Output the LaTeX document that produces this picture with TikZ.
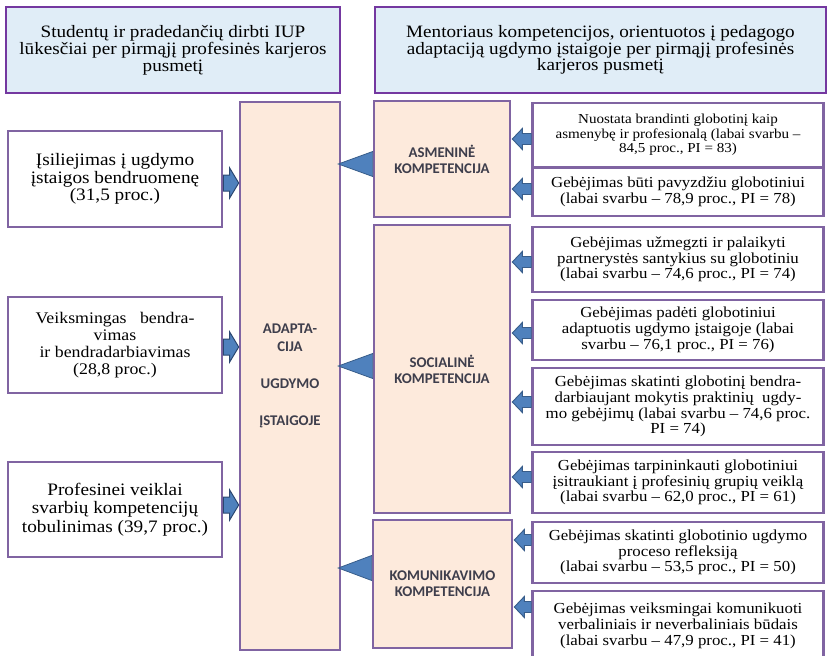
\documentclass[tikz,border=0pt]{standalone}
\usepackage{fontspec}
\setmainfont[FakeStretch=1.1]{Liberation Serif}
\newfontfamily\labelfont{Carlito}
\usetikzlibrary{calc}

\definecolor{boxline}{HTML}{8064A2}
\definecolor{headline}{HTML}{7438A0}
\definecolor{headfill}{HTML}{E0EDF7}
\definecolor{peach}{HTML}{FDEADC}
\definecolor{labeltext}{HTML}{3E3E4C}
\definecolor{arrowfill}{HTML}{4F81BD}
\definecolor{arrowline}{HTML}{385D8A}
\definecolor{arrowdark}{HTML}{2B4770}

% right-pointing block arrow between two coordinates on one level
\newcommand{\blockR}[2]{%
  \draw[needarrow]
    ($(#1)+(0,-8)$) -- ($(#2)+(-9,-8)$) -- ($(#2)+(-9,-15)$) -- (#2)
    -- ($(#2)+(-9,15)$) -- ($(#2)+(-9,8)$) -- ($(#1)+(0,8)$) -- cycle;}
% left-pointing block arrow, tip at the second coordinate
\newcommand{\blockL}[2]{%
  \draw[itemarrow]
    ($(#1)+(0,-5.5)$) -- ($(#2)+(10,-5.5)$) -- ($(#2)+(10,-10.5)$) -- (#2)
    -- ($(#2)+(10,10.5)$) -- ($(#2)+(10,5.5)$) -- ($(#1)+(0,5.5)$) -- cycle;}
% triangle pointing left, tip at the second coordinate
\newcommand{\wedgeL}[2]{%
  \draw[wedge] ($(#1)+(0,-12.5)$) -- (#2) -- ($(#1)+(0,12.5)$) -- cycle;}

\begin{document}
\begin{tikzpicture}[x=1pt,y=-1pt,
  wh/.style 2 args={minimum width=#1pt, minimum height=#2pt},
  base/.style={draw=boxline, line width=2.6pt, align=center, inner sep=1pt},
  headbox/.style={base, draw=headline, fill=headfill,
    font=\fontsize{17.4}{16.8}\selectfont},
  needbox/.style={base, fill=white, font=\fontsize{17.5}{17.5}\selectfont},
  compbox/.style={base, fill=peach, text=labeltext,
    font=\labelfont\bfseries\fontsize{14.8}{16}\selectfont},
  itembox/.style={base, fill=white, font=\fontsize{15.3}{15.7}\selectfont},
  smallitem/.style={itembox, font=\fontsize{13.7}{14.5}\selectfont},
  needarrow/.style={fill=arrowfill, draw=arrowdark, line width=1pt, line join=miter},
  itemarrow/.style={fill=arrowfill, draw=arrowline, line width=0.9pt, line join=miter},
  wedge/.style={fill=arrowfill, draw=arrowline, line width=0.8pt, line join=miter},
]
\useasboundingbox (0,0) rectangle (828,656);

% column headings
\node[headbox, wh={334}{86}] (h1) at (173,50)
  {Studentų ir pradedančių dirbti IUP\\lūkesčiai per pirmąjį profesinės karjeros\\pusmetį};
\node[headbox, wh={451}{86}] (h2) at (600.5,50)
  {Mentoriaus kompetencijos, orientuotos į pedagogo\\adaptaciją ugdymo įstaigoje per pirmąjį profesinės\\karjeros pusmetį};

% central block
\node[compbox, wh={100}{548}, font=\labelfont\bfseries\fontsize{14.8}{18}\selectfont] (adapt) at (290,376)
  {ADAPTA-\\CIJA\\[19pt]UGDYMO\\[19pt]ĮSTAIGOJE};

% expectations
\node[needbox, wh={214}{96}] (l1) at (115,179)
  {Įsiliejimas į ugdymo\\įstaigos bendruomenę\\(31,5 proc.)};
\node[needbox, wh={214}{96}, font=\fontsize{16.2}{17}\selectfont] (l2) at (115,345)
  {Veiksmingas\ \ \ bendra-\\vimas\\ir bendradarbiavimas\\(28,8 proc.)};
\node[needbox, wh={214}{95}, font=\fontsize{17.5}{18.5}\selectfont] (l3) at (115,509.5)
  {Profesinei veiklai\\svarbių kompetencijų\\tobulinimas (39,7 proc.)};

% competence groups
\node[compbox, wh={136}{116}] (asm) at (442,159) {ASMENINĖ\\KOMPETENCIJA};
\node[compbox, wh={136}{288}] (soc) at (442,369) {SOCIALINĖ\\KOMPETENCIJA};
\node[compbox, wh={139}{128}] (kom) at (442.5,584) {KOMUNIKAVIMO\\KOMPETENCIJA};

% individual competences
\node[smallitem, wh={291}{64}] (r1) at (678,135)
  {Nuostata brandinti globotinį kaip\\asmenybę ir profesionalą (labai svarbu –\\84,5 proc., PI = 83)};
\node[itembox, wh={291}{48}] (r2) at (678,192)
  {Gebėjimas būti pavyzdžiu globotiniui\\(labai svarbu – 78,9 proc., PI = 78)};
\node[itembox, wh={291}{65}] (r3) at (678,259.5)
  {Gebėjimas užmegzti ir palaikyti\\partnerystės santykius su globotiniu\\(labai svarbu – 74,6 proc., PI = 74)};
\node[itembox, wh={291}{60}] (r4) at (678,330)
  {Gebėjimas padėti globotiniui\\adaptuotis ugdymo įstaigoje (labai\\svarbu – 76,1 proc., PI = 76)};
\node[itembox, wh={291}{77}] (r5) at (678,406.5)
  {Gebėjimas skatinti globotinį bendra-\\darbiaujant mokytis praktinių\ \ ugdy-\\mo gebėjimų (labai svarbu – 74,6 proc.\\PI = 74)};
\node[itembox, wh={291}{61}] (r6) at (678,482.5)
  {Gebėjimas tarpininkauti globotiniui\\įsitraukiant į profesinių grupių veiklą\\(labai svarbu – 62,0 proc., PI = 61)};
\node[itembox, wh={291}{61}] (r7) at (678,552.5)
  {Gebėjimas skatinti globotinio ugdymo\\proceso refleksiją\\(labai svarbu – 53,5 proc., PI = 50)};
\node[itembox, wh={291}{70}] (r8) at (678,626)
  {Gebėjimas veiksmingai komunikuoti\\verbaliniais ir neverbaliniais būdais\\(labai svarbu – 47,9 proc., PI = 41)};

% expectations feed the central block
\foreach \n/\y in {l1/183, l2/347, l3/505}{
  \coordinate (\n s) at (\n.east |- 0,\y);
  \coordinate (\n t) at (adapt.west |- 0,\y);
  \blockR{\n s}{\n t}
}

% competence groups point at the central block
\foreach \n/\y in {asm/164, soc/366, kom/568}{
  \coordinate (\n s) at (\n.west |- 0,\y);
  \coordinate (\n t) at ($(adapt.east |- 0,\y)+(-3,0)$);
  \wedgeL{\n s}{\n t}
}

% individual competences point at their group
\foreach \n/\g/\y in {r1/asm/139, r2/asm/189, r3/soc/262, r4/soc/333,
                      r5/soc/402, r6/soc/477, r7/kom/540, r8/kom/607}{
  \coordinate (\n s) at (\n.west |- 0,\y);
  \coordinate (\n t) at ($(\g.east |- 0,\y)+(1,0)$);
  \blockL{\n s}{\n t}
}
\end{tikzpicture}
\end{document}
